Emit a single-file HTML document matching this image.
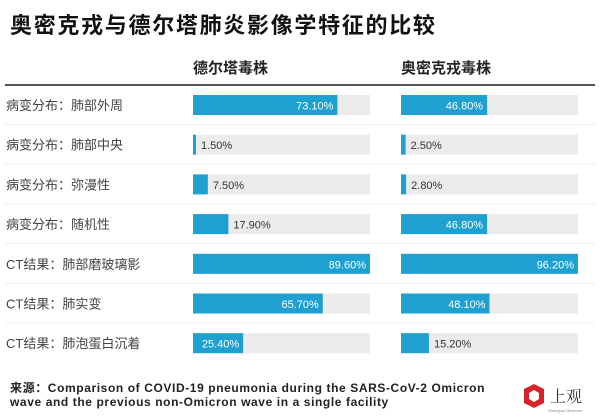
<!DOCTYPE html>
<html><head><meta charset="utf-8">
<style>
body{margin:0;background:#fff;font-family:"Liberation Sans","Noto Sans CJK SC",sans-serif;}
#wrap{position:relative;width:600px;height:419px;overflow:hidden;}
.t{position:absolute;white-space:nowrap;}
</style></head>
<body>
<div id="wrap">
<div class="t" style="left:10px;top:8px;font-size:22px;font-weight:bold;color:#111;letter-spacing:1.7px;">奥密克戎与德尔塔肺炎影像学特征的比较</div>
<div class="t" style="left:193px;top:57px;font-size:15px;font-weight:bold;color:#222;">德尔塔毒株</div>
<div class="t" style="left:401px;top:57px;font-size:15px;font-weight:bold;color:#222;">奥密克戎毒株</div>
<div style="position:absolute;left:5px;top:84px;width:590px;height:2px;background:#555;"></div>
<svg id="svg" width="600" height="419" style="position:absolute;left:0;top:0"></svg>
<div class="t" style="left:10px;top:381px;font-size:12px;font-weight:bold;color:#222;line-height:14px;letter-spacing:0.6px;">来源：Comparison of COVID-19 pneumonia during the SARS-CoV-2 Omicron<br>wave and the previous non-Omicron wave in a single facility</div>
<svg width="70" height="40" style="position:absolute;left:518px;top:378px">
<polygon points="16,6 26,11 26,25 16,30 6,25 6,11" fill="#d8232a"/>
<polygon points="16,12 21,15 21,21 16,24 11,21 11,15" fill="#fff"/>
<text x="32" y="24" font-size="16" fill="#333" font-family="Noto Serif CJK SC,serif">上观</text>
<text x="30" y="34" font-size="4" fill="#888">Shanghai Observer</text>
</svg>
</div>
<script>
const categories=["病变分布：肺部外周","病变分布：肺部中央","病变分布：弥漫性","病变分布：随机性","CT结果：肺部磨玻璃影","CT结果：肺实变","CT结果：肺泡蛋白沉着"];
const deltaValues=[73.1,1.5,7.5,17.9,89.6,65.7,25.4];
const omicronValues=[46.8,2.5,2.8,46.8,96.2,48.1,15.2];
const svg=document.getElementById('svg');
const NS='http://www.w3.org/2000/svg';
const rowY=i=>95+i*39.7;
const deltaMax=Math.max(...deltaValues), omicronMax=Math.max(...omicronValues);
function mk(tag,attrs){const e=document.createElementNS(NS,tag);for(const k in attrs)e.setAttribute(k,attrs[k]);svg.appendChild(e);return e;}
categories.forEach((c,i)=>{
  const y=rowY(i);
  const lab=mk('text',{x:6,y:y+15,'font-size':13,fill:'#444'});
  
  
  lab.textContent=c;
  if(i<categories.length-1){
    const ln=mk('rect',{x:5,y:y+29,width:590,height:1,fill:'#eee'});
    
    
  }
  [[193,deltaValues[i],deltaMax,'delta'],[401,omicronValues[i],omicronMax,'omicron']].forEach(([x0,v,mx,s])=>{
    const bg=mk('rect',{x:x0,y:y,width:177,height:20,fill:'#ebebeb'});
    
    
    const w=v/mx*177;
    const b=mk('rect',{x:x0,y:y,width:w,height:20,fill:'#1ea0d0'});
    
    
    const inside=v>=25;
    const t=mk('text',inside?{x:x0+Math.max(w-4,42),y:y+14.5,'font-size':11,fill:'#fff','text-anchor':'end'}:{x:x0+w+5,y:y+14.5,'font-size':11,fill:'#333'});
    
    
    t.textContent=v.toFixed(2)+'%';
  });
});
</script>
</body></html>
